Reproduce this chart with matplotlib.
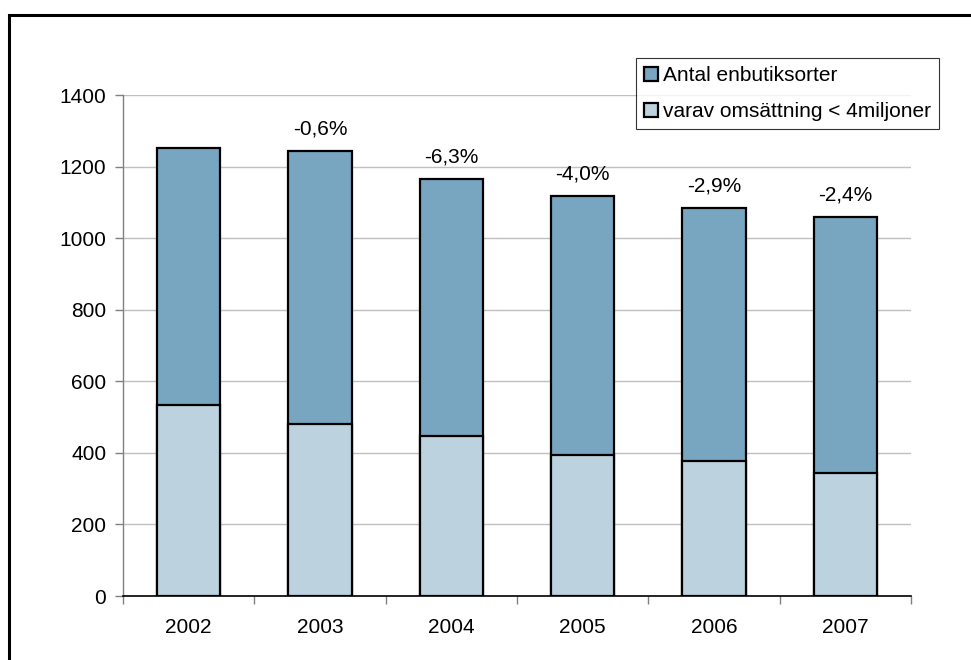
import matplotlib.pyplot as plt
from matplotlib.patches import Patch, Rectangle

plt.rcParams['font.family'] = ['Liberation Sans', 'DejaVu Sans']

years = ['2002', '2003', '2004', '2005', '2006', '2007']
total = [1251, 1243, 1165, 1119, 1085, 1059]
small = [534, 482, 446, 393, 376, 345]
change = ['', '-0,6%', '-6,3%', '-4,0%', '-2,9%', '-2,4%']

dark = '#78A5C0'
light = '#BCD2DF'
fs = 15

fig = plt.figure(figsize=(9.71, 6.6), dpi=100)
ax = fig.add_axes([123 / 971, 1 - 596 / 660, (911 - 123) / 971, (596 - 95) / 660])

x = range(len(years))
ax.bar(x, total, width=0.48, color=dark, edgecolor='black', linewidth=1.6, zorder=2)
ax.bar(x, small, width=0.48, color=light, edgecolor='black', linewidth=1.6, zorder=3)

for i, txt in enumerate(change):
    if txt:
        ax.annotate(txt, (i, total[i]), xytext=(0, 9), textcoords='offset points',
                    ha='center', va='bottom', fontsize=fs)

ax.set_xlim(-0.5, len(years) - 0.5)
ax.set_ylim(0, 1400)
ax.set_yticks(range(0, 1401, 200))
ax.set_xticks(x)
ax.set_xticklabels(years)
ax.set_xticks([i - 0.5 for i in range(len(years) + 1)], minor=True)

ax.grid(axis='y', color='#C0C0C0', linewidth=1, zorder=0)
ax.set_axisbelow(True)
for side in ['top', 'right']:
    ax.spines[side].set_visible(False)
ax.spines['left'].set_color('#808080')
ax.spines['left'].set_linewidth(1)
ax.spines['bottom'].set_color('black')
ax.spines['bottom'].set_linewidth(1.2)

ax.tick_params(axis='y', colors='#808080', labelcolor='black', labelsize=fs,
               length=6, width=1, pad=6)
ax.tick_params(axis='x', which='major', length=0, labelsize=fs, pad=15.5)
ax.tick_params(axis='x', which='minor', length=6, width=1, color='#808080')

handles = [Patch(facecolor=dark, edgecolor='black', linewidth=1.6),
           Patch(facecolor=light, edgecolor='black', linewidth=1.6)]
leg = fig.legend(handles, ['Antal enbutiksorter', 'varav omsättning < 4miljoner'],
                 loc='upper left', bbox_to_anchor=(636 / 971, 1 - 58 / 660),
                 fontsize=fs, frameon=True, fancybox=False, borderpad=0.4,
                 handlelength=0.65, handleheight=0.65, handletextpad=0.25,
                 labelspacing=0.8, borderaxespad=0)
leg.get_frame().set_edgecolor('black')
leg.get_frame().set_linewidth(0.8)

# outer chart frame
fig.patches.append(Rectangle((9 / 971, -0.1), 1.2, 1 - 15 / 660 + 0.1, transform=fig.transFigure,
                             fill=False, edgecolor='black', linewidth=2.2))

fig.savefig('out.png', dpi=100)
